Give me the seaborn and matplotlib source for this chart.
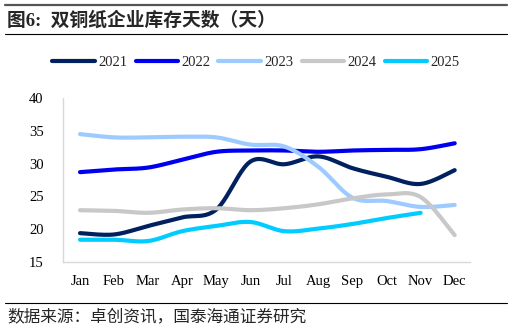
import numpy as np
import pandas as pd
import matplotlib
matplotlib.use("Agg")
import matplotlib.pyplot as plt
import seaborn as sns
from matplotlib.lines import Line2D

# data
months = ['Jan', 'Feb', 'Mar', 'Apr', 'May', 'Jun', 'Jul', 'Aug', 'Sep', 'Oct', 'Nov', 'Dec']
y2021 = [19.4, 19.2, 20.5, 21.8, 23.0, 30.3, 29.9, 31.1, 29.3, 28.0, 26.9, 29.0]
y2022 = [28.7, 29.1, 29.4, 30.6, 31.8, 32.0, 32.0, 31.8, 32.0, 32.1, 32.2, 33.1]
y2023 = [34.5, 34.0, 34.0, 34.1, 34.0, 32.9, 32.6, 29.5, 24.8, 24.3, 23.4, 23.7]
y2024 = [22.9, 22.8, 22.5, 23.0, 23.2, 22.9, 23.2, 23.8, 24.7, 25.3, 24.9, 19.1]
y2025 = [18.4, 18.4, 18.2, 19.7, 20.5, 21.1, 19.7, 20.1, 20.8, 21.7, 22.5]
years = ['2021', '2022', '2023', '2024', '2025']
series = [y2021, y2022, y2023, y2024, y2025]
colors = ['#002060', '#0000F0', '#9DCBFF', '#C8C8C8', '#00CCFF']


def smooth(vals, n=24):
    # Excel-style smoothed line: cubic bezier through the points
    p = np.column_stack([np.arange(len(vals)), vals]).astype(float)
    out = [p[0]]
    for i in range(len(p) - 1):
        p0 = p[i - 1] if i > 0 else p[i]
        p3 = p[i + 2] if i + 2 < len(p) else p[i + 1]
        c1 = p[i] + (p[i + 1] - p0) / 6
        c2 = p[i + 1] - (p3 - p[i]) / 6
        t = np.linspace(0, 1, n)[1:, None]
        seg = ((1 - t) ** 3 * p[i] + 3 * (1 - t) ** 2 * t * c1
               + 3 * (1 - t) * t ** 2 * c2 + t ** 3 * p[i + 1])
        out.extend(seg)
    return np.array(out)


rows = []
for yr, vals in zip(years, series):
    pts = smooth(vals)
    for k, (x, y) in enumerate(pts):
        rows.append({'year': yr, 'x': x, 'y': y, 'order': k})
df = pd.DataFrame(rows)

sns.set_style("white")
plt.rcParams['font.family'] = ['Liberation Serif', 'Noto Sans CJK SC', 'DejaVu Sans']

fig = plt.figure(figsize=(5.12, 3.3), dpi=100)
ax = fig.add_axes([0.123, 0.206, 0.795, 0.497])

sns.lineplot(data=df, x='x', y='y', hue='year', palette=dict(zip(years, colors)),
             sort=False, estimator=None, units='year', linewidth=3.0, legend=False, ax=ax)

ax.set_xlim(-0.5, 11.45)
ax.set_ylim(15, 40)
ax.set_yticks([15, 20, 25, 30, 35, 40])
ax.set_xticks(range(12))
ax.set_xticklabels(months)
ax.set_xlabel('')
ax.set_ylabel('')
ax.tick_params(axis='both', length=0, labelsize=10.5, colors='black')
ax.tick_params(axis='y', pad=14)
ax.tick_params(axis='x', pad=9)
for s in ['top', 'right']:
    ax.spines[s].set_visible(False)
for s in ['left', 'bottom']:
    ax.spines[s].set_color('#D9D9D9')
    ax.spines[s].set_linewidth(1.0)

handles = [Line2D([], [], color=c, lw=3.0, solid_capstyle='round') for c in colors]
fig.legend(handles, years, loc='center', bbox_to_anchor=(0.5, 0.812), ncol=5,
           frameon=False, fontsize=10.5, handlelength=2.9, handletextpad=0.25,
           columnspacing=0.55)

# title and source with rules
fig.add_artist(Line2D([0.01, 0.99], [1 - 5 / 330, 1 - 5 / 330], color='#555555', lw=1.6))
fig.add_artist(Line2D([0.01, 0.99], [1 - 34 / 330, 1 - 34 / 330], color='black', lw=0.8))
fig.add_artist(Line2D([0.01, 0.99], [1 - 303 / 330, 1 - 303 / 330], color='black', lw=0.8))
fig.text(0.014, 1 - 20 / 330, '图6:  双铜纸企业库存天数（天）', fontsize=13.5,
         fontweight='bold', va='center', ha='left')
fig.text(0.014, 1 - 317 / 330, '数据来源：卓创资讯，国泰海通证券研究', fontsize=12,
         va='center', ha='left')

fig.savefig('out.png', dpi=100)
